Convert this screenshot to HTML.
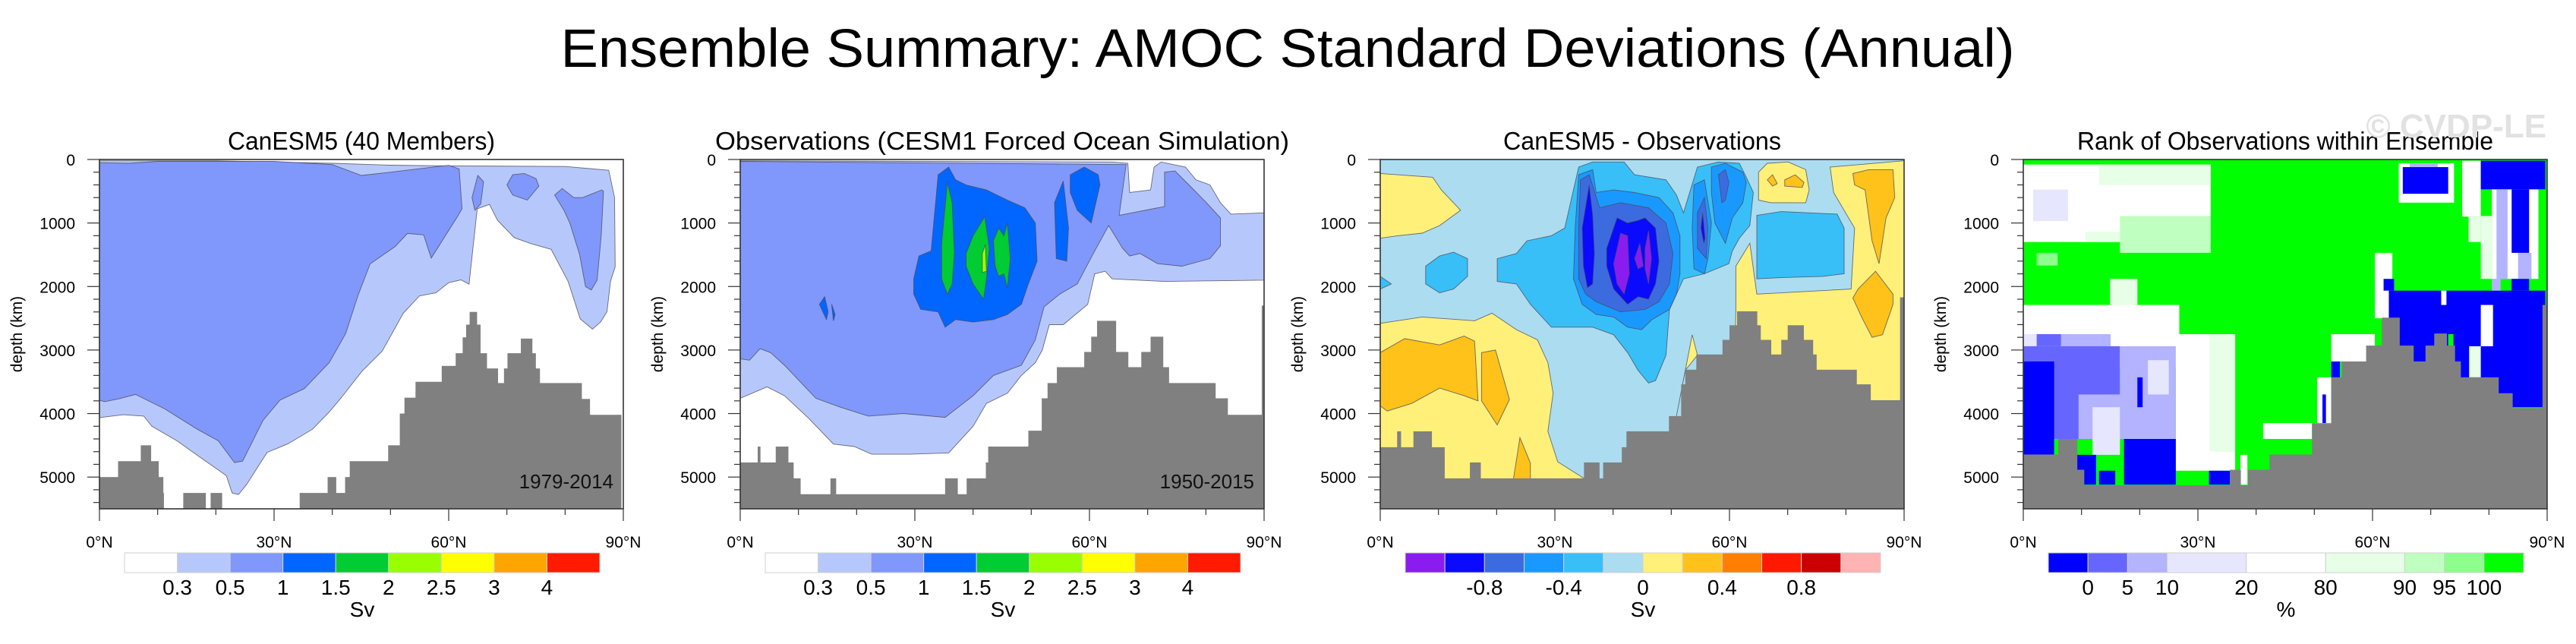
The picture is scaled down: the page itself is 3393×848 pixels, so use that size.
<!DOCTYPE html>
<html><head><meta charset="utf-8"><title>Ensemble Summary: AMOC Standard Deviations</title>
<style>
html,body{margin:0;padding:0;background:#fff;}
svg{display:block;font-family:"Liberation Sans",Arial,sans-serif;}
</style></head>
<body>
<svg id="fig" width="3393" height="848" viewBox="0 0 3393 848" xmlns="http://www.w3.org/2000/svg">
<rect x="0" y="0" width="3393" height="848" fill="#fff"/>
<text x="1696" y="88" font-size="71" text-anchor="middle" textLength="1915" lengthAdjust="spacingAndGlyphs">Ensemble Summary: AMOC Standard Deviations (Annual)</text>
<g id="panels"></g>
<text x="3354" y="181" font-size="44" font-weight="bold" fill="#e2e2e2" text-anchor="end">© CVDP-LE</text>
</svg>
<script>
// ---------- data ----------
const panelTitles = ["CanESM5 (40 Members)","Observations (CESM1 Forced Ocean Simulation)","CanESM5 - Observations","Rank of Observations within Ensemble"];
const panelTitleWidths = [352,756,366,548];
const periodLabels = ["1979-2014","1950-2015","",""];
const depthTicks = [0,1000,2000,3000,4000,5000];
const latTicks = [0,30,60,90];
const latTickLabels = ["0°N","30°N","60°N","90°N"];

const sdColors = ["#ffffff","#b6c8fb","#8097fb","#0066ff","#00cc33","#99ff00","#ffff00","#ffa500","#ff1a00"];
const sdLabels = ["0.3","0.5","1","1.5","2","2.5","3","4"];
const diffColors = ["#8a1cf0","#0a0aff","#3c6be0","#1999ff","#38bff8","#acdcf0","#fff07a","#ffc21a","#ff8000","#ff1900","#cc0000","#ffb3b3"];
const diffLabels = ["","-0.8","","-0.4","","0","","0.4","","0.8",""];
const rankColors = ["#0000ff","#6666ff","#b3b3ff","#e6e6ff","#ffffff","#e6ffe6","#bfffbf","#8cff8c","#00ff00"];
const rankBoxUnits = [1,1,1,2,2,2,1,1,1];
const rankLabels = ["0","5","10","20","80","90","95","100"];

// bathymetry steps: [lat0, lat1, depth]
const bathy1 = [[0,3.2,5000],[3.2,7.1,4750],[7.1,8.8,4500],[8.8,10.1,4750],[10.1,10.9,5000],[10.9,11.0,5250],[14.4,18.2,5250],[19.1,21,5250],[34.4,39.2,5250],[39.2,40.6,5000],[40.6,42.2,5250],[42.2,43,5000],[43,49.6,4750],[49.6,51.6,4500],[51.6,52.4,4000],[52.4,54.3,3750],[54.3,58.8,3500],[58.8,61.2,3250],[61.2,62.4,3050],[62.4,63,2800],[63,63.6,2600],[63.6,64.8,2400],[64.8,65.4,2600],[65.4,66.5,3050],[66.5,68.4,3290],[68.4,69.5,3520],[69.5,70.1,3290],[70.1,72.4,3050],[72.4,74.3,2820],[74.3,74.9,3050],[74.9,75.6,3290],[75.6,82.8,3520],[82.8,84.2,3770],[84.2,89.6,4020]];
const bathy2 = [[0,3,4770],[3,3.4,4520],[3.4,6.1,4770],[6.1,8.2,4520],[8.2,9.1,4770],[9.1,10.3,5020],[10.3,15.5,5270],[15.5,16.4,5020],[16.4,35.2,5270],[35.2,37.3,5020],[37.3,38.9,5270],[38.9,42.2,5020],[42.2,42.6,4770],[42.6,49.5,4520],[49.5,51.8,4270],[51.8,52.8,3760],[52.8,54.4,3520],[54.4,59.1,3270],[59.1,60.3,3030],[60.3,61.3,2790],[61.3,64.5,2540],[64.5,66.6,3030],[66.6,68.9,3270],[68.9,70.5,3030],[70.5,72.6,2790],[72.6,73.6,3270],[73.6,81.6,3520],[81.6,83.7,3760],[83.7,89.6,4020],[89.6,90,2300]];
const bathy3 = [[0,2.9,4530],[2.9,3.5,4280],[3.5,5.7,4530],[5.7,8.8,4280],[8.8,11,4530],[11,15.4,5020],[15.4,17.2,4770],[17.2,35,5020],[35,37.6,4770],[37.6,38.3,5020],[38.3,41.5,4770],[41.5,42.3,4530],[42.3,49.6,4280],[49.6,51.7,4040],[51.7,52.4,3540],[52.4,54.3,3310],[54.3,58.8,3070],[58.8,60,2840],[60,61.3,2610],[61.3,64.7,2390],[64.7,65.3,2610],[65.3,67.1,2840],[67.1,68.9,3070],[68.9,70,2840],[70,72.7,2610],[72.7,74.3,2840],[74.3,74.9,3070],[74.9,81.8,3310],[81.8,84.2,3540],[84.2,89.3,3790],[89.3,90,2170]];
const bathy4 = [[0,6,4645],[6,9.2,4400],[9.2,10.4,4885],[10.4,35.5,5130],[35.5,37.3,4885],[37.3,38.6,5130],[38.6,42.3,4885],[42.3,49.6,4645],[49.6,52.9,4160],[52.9,54.7,3430],[54.7,58.9,3180],[58.9,61.6,2930],[61.6,64.6,2490],[64.6,67,2930],[67,69.1,3180],[69.1,70.6,2930],[70.6,72.7,2740],[72.7,74.1,2930],[74.1,75.1,3180],[75.1,81.6,3430],[81.6,84,3680],[84,89.2,3915],[89.2,90,2290]];

// contour regions: {c: colour index, p: [[lat,depth],...]}
const field1 = [
 {c:1,p:[[0,20],[20,20],[40,60],[50,90],[60,100],[80,110],[87.5,170],[88.5,600],[88.6,1690],[87.8,1918],[87.2,2397],[86.1,2557],[84.7,2671],[82.6,2511],[80.5,1918],[77.6,1415],[74.1,1324],[71.3,1233],[68.4,959],[67,708],[64.9,776],[63.5,1963],[62.1,1895],[60,1940],[57.8,2100],[55,2146],[52.2,2420],[48.6,3014],[45.1,3333],[41.6,3744],[39.5,3973],[36.6,4247],[32.4,4475],[28.8,4612],[25.3,5114],[23.9,5274],[22.8,5251],[21.8,4977],[17.5,4703],[13.3,4429],[9,4200],[7.6,4040],[4.1,4018],[0,4064]]},
 {c:2,p:[[0,50],[5,60],[10,30],[30,30],[40,80],[45,251],[50,200],[60,91],[61.8,150],[62.3,776],[61.5,900],[57,1553],[55.7,1187],[52.9,1164],[50.8,1370],[46.5,1644],[44.4,2146],[42.3,2740],[39.5,3196],[35.2,3607],[31,3790],[28.1,4110],[24.6,4749],[23.2,4772],[20.4,4429],[16.8,4247],[11.2,3927],[6.2,3699],[3.4,3767],[0.9,3813],[0,3790]]},
 {c:2,p:[[70,400],[71,240],[73,220],[75,300],[75.5,420],[73.5,640],[71,560]]},
 {c:2,p:[[78.2,560],[79.5,457],[81.5,600],[83,600],[86.3,480],[86.6,500],[86.2,1200],[85.5,1900],[84.5,2055],[83.5,2000],[82.5,1500],[80.8,1000],[79.8,800]]},
 {c:2,p:[[64,600],[65,250],[66,350],[65.5,700],[64.5,800]]}
];
const field2 = [
 {c:1,p:[[0,3760],[4.6,3580],[7.6,3720],[11.8,4080],[16,4480],[19.6,4520],[22.6,4640],[29.2,4640],[35.8,4620],[40,4200],[42.3,3840],[45.9,3680],[48.3,3400],[50.7,3200],[51.9,3000],[53.1,2600],[55.5,2600],[59.7,2280],[60.9,1800],[62.7,1760],[63.9,1880],[72.9,1920],[90,1900],[90,840],[84.3,860],[82.5,680],[80.7,400],[78.3,320],[76.5,120],[72.3,40],[71.1,120],[70.5,480],[66.9,520],[66.6,60],[63.9,40],[0,20]]},
 {c:2,p:[[0,3140],[1.6,3160],[3.4,2980],[5.2,3040],[7.6,3240],[13,3760],[17.2,3900],[22,4040],[28,4000],[35.2,4060],[40,3720],[43.5,3400],[48.3,3240],[50.7,2840],[52.2,2320],[54.9,2120],[57.9,1960],[60.9,1440],[63.3,1040],[65.7,1400],[66.9,1520],[68.7,1480],[71.7,1640],[75.9,1680],[80.7,1560],[82.5,1360],[82.5,920],[80.1,680],[77.1,400],[74.7,180],[72.9,200],[72.9,740],[65.1,880],[66.3,80],[0,30]]},
 {c:3,p:[[29.8,1880],[30.7,1520],[32.8,1440],[34,240],[35.8,120],[37,320],[38.8,400],[42.3,480],[45.9,640],[48.9,760],[50.7,1000],[51,1600],[49.5,1960],[48.3,2280],[45.9,2440],[43.5,2520],[40,2560],[37,2520],[35.2,2640],[34,2400],[31,2360],[29.8,2120]]},
 {c:3,p:[[54,680],[55.5,340],[56.4,1080],[56.1,1600],[54.3,1560]]},
 {c:3,p:[[56.7,240],[59.1,120],[61.5,240],[61.8,400],[60.3,1000],[57.9,800],[56.7,520]]},
 {c:3,p:[[13.6,2280],[14.5,2160],[15.1,2400],[14.8,2520]]},
 {c:3,p:[[15.7,2280],[16.3,2440],[16,2540]]},
 {c:4,p:[[34.6,1320],[35.6,360],[36.4,680],[36.8,1480],[36.4,1960],[35.6,2120],[34.6,1880]]},
 {c:4,p:[[38.8,1480],[40,1200],[42,900],[42.8,1400],[42.3,1880],[41.8,2200],[40,1960],[38.8,1680]]},
 {c:4,p:[[43.5,1280],[44.4,1080],[45.3,1200],[45.9,1000],[46.4,1560],[45.9,2020],[45.3,1800],[44.4,1840],[43.8,1680]]},
 {c:5,p:[[41.6,1480],[42.1,1340],[42.3,1760],[41.6,1780]]}
];
const field3 = [
 {c:6,p:[[0,220],[9,280],[10.5,480],[13.8,800],[10.2,1040],[7.2,1160],[3,1200],[0,1240]]},
 {c:6,p:[[0,2580],[7.2,2480],[16.2,2540],[19.2,2420],[23.4,2680],[27,2840],[28.8,3200],[29.7,3680],[28.8,4280],[30.5,4760],[35,5020],[35,5500],[0,5500]]},
 {c:7,p:[[0,3040],[4.2,2820],[10.2,2920],[14.4,2780],[16.2,2860],[16.8,3800],[14.4,3720],[10.2,3600],[5.4,3840],[1.2,3960],[0,3880]]},
 {c:7,p:[[17.4,3040],[19.8,3000],[22.2,3780],[20.1,4180],[17.4,3800]]},
 {c:7,p:[[22.8,5080],[24,4380],[25.8,4780],[25.8,5080]]},
 {c:6,p:[[61.1,1680],[63.5,1320],[64.7,2120],[80.9,2040],[81.5,1080],[77.9,520],[77.3,120],[90,20],[90,5500],[60.5,5500],[61.1,2360]]},
 {c:6,p:[[65,200],[66.5,60],[70.1,40],[73.1,160],[73.7,480],[73.1,680],[67.1,680],[65,640]]},
 {c:7,p:[[81.2,220],[83.9,160],[88.1,160],[88.4,600],[86.9,920],[85.7,1640],[84.5,1280],[83.3,480],[81.5,400]]},
 {c:7,p:[[82.1,2040],[85.1,1760],[88.1,2120],[88.1,2280],[86.3,2760],[84.5,2800],[82.7,2480],[81.2,2180]]},
 {c:7,p:[[66.5,320],[67.4,240],[68.2,380],[67.4,420]]},
 {c:7,p:[[69.5,320],[71.3,240],[72.8,360],[72.5,440],[69.5,420]]},
 {c:6,p:[[50.9,4040],[53.6,2760],[54.5,3080],[52.4,3320]]},
 {c:4,p:[[20.1,1560],[23.4,1480],[25.2,1280],[29.4,1200],[31.7,1080],[34.1,120],[36.5,40],[41.9,40],[43.7,240],[49.1,320],[50.9,560],[52.1,840],[54.5,120],[58.1,40],[61.7,60],[62.9,280],[64.1,520],[63.5,1040],[61.7,1240],[60.5,1440],[59.9,1640],[55.7,1800],[52.1,1880],[49.7,2360],[49.1,3080],[47.3,3480],[46.1,3520],[44.3,3320],[42.5,3040],[40.1,2760],[36.5,2640],[34.1,2640],[29.4,2640],[25.8,2280],[23.4,1960],[20.1,1920]]},
 {c:4,p:[[7.8,1680],[10.2,1520],[12.6,1460],[15,1560],[15,1840],[12.6,2040],[10.2,2100],[7.8,1960]]},
 {c:4,p:[[64.7,880],[68.9,820],[78.5,860],[79.7,1080],[79.7,1800],[76.1,1840],[68.9,1860],[64.7,1880]]},
 {c:4,p:[[0,1840],[1.9,1960],[0,2040]]},
 {c:3,p:[[34.1,240],[36.5,160],[37.1,520],[40.1,480],[43.7,520],[47.9,600],[50.3,840],[51.5,1200],[51.5,1800],[50.9,2120],[49.7,2360],[46.7,2520],[44.9,2680],[42.5,2640],[40.1,2480],[37.1,2440],[34.7,2280],[33.2,1880],[33.5,1080]]},
 {c:3,p:[[53.9,400],[55.7,320],[56.9,1000],[56.3,1560],[55.7,1800],[53.9,1720],[53.6,1080]]},
 {c:3,p:[[56.9,120],[59.3,60],[62.3,200],[62.9,360],[62.3,680],[60.5,920],[59.3,1320],[57.5,1000],[56.9,520]]},
 {c:2,p:[[34.4,320],[35.9,240],[37.7,760],[41.3,680],[46.1,760],[49.1,1000],[50.3,1480],[49.7,1960],[47.9,2240],[45.5,2360],[41.3,2400],[37.1,2240],[35.3,2120],[34.1,1880],[34.1,1080]]},
 {c:2,p:[[54.5,840],[55.7,600],[56.3,1080],[56,1560],[54.5,1400]]},
 {c:2,p:[[58.1,240],[59.3,160],[59.9,360],[59.3,640],[58.7,680]]},
 {c:1,p:[[34.7,1080],[35.9,400],[36.5,880],[36.8,1480],[36.5,1960],[35.6,2020],[34.9,1680]]},
 {c:1,p:[[38.9,1400],[40.7,920],[42.5,1000],[44.3,960],[45.5,920],[47.3,1080],[47.9,1600],[47.3,1960],[46.1,2200],[44.3,2160],[42.5,2280],[40.1,2040],[38.9,1680]]},
 {c:1,p:[[55.4,840],[55.8,1240],[55.6,1320],[55.1,1080]]},
 {c:0,p:[[40.1,1640],[41.3,1160],[42.5,1200],[42.8,1800],[41.9,2120],[40.7,1960]]},
 {c:0,p:[[43.7,1560],[44.6,1320],[45.2,1680],[44.3,1720]]},
 {c:0,p:[[45.5,1400],[46.1,1120],[46.6,1560],[46.1,1960],[45.5,1720]]}
];
// rank cells: [lat0, lat1, depth0, depth1, colour index]
const rankCells = [
 [0,90,0,5500,8],
 [0,32.2,80,1300,4],[13,32,80,400,5],[16.6,32.2,890,1470,6],[10.7,16.6,1140,1300,5],[1.7,7.7,475,970,3],
 [2.3,5.9,1470,1670,7],[14.9,19.6,1880,2290,5],
 [0,26.8,2290,2750,4],[0,36,2750,3280,4],[26.2,36.4,2750,4900,4],[32,36.4,2750,4600,5],
 [0,2.3,2750,2940,3],[2.3,6.5,2750,2940,1],[6.5,15,2750,2940,2],
 [0,16.6,2940,4400,1],[16.6,26.2,2940,4400,2],[21.4,25,3160,3700,3],[9.5,21.4,3700,4400,2],[11.9,16.6,3900,4650,3],
 [0,5.3,3180,4650,0],[19.6,20.5,3430,3900,0],
 [17.3,26.2,4400,5120,0],[9.2,12.5,4650,5120,0],[13,15.8,4900,5120,0],[31.9,35.5,4900,5120,0],
 [37.3,38.5,4650,5120,4],
 [60.4,63.4,1470,2500,4],[61.9,63.7,1880,2065,0],
 [62.8,89.7,2065,3900,0],[71.8,72.7,2065,2290,4],[73,73.9,2750,2940,8],[76.6,78.6,2940,3430,5],[78.6,80.7,2290,2940,4],
 [75.4,78.6,20,900,4],[76.5,78.6,900,1300,5],[80.5,88.5,470,1880,4],[78.6,80.5,890,1880,5],[78.6,89.7,20,470,0],[81.3,83.2,470,1880,2],[83.9,86.9,470,1470,0],[85,87.3,1470,1880,2],[80.5,82,1880,2065,2],[83.9,86.9,1880,2065,0],
 [64.5,74,60,680,4],[66.4,71.2,60,190,2],[65.2,73,120,540,0],
 [52.9,60.4,2750,3180,4],[52.9,54.4,3180,3430,0],[50.5,52.9,3430,4150,4],[51.4,52,3700,4150,0],[41.2,49.6,4150,4400,4]
];

// ---------- layout ----------
const panelLefts = [131,975,1818,2665];
const PW = 690, PT = 210, PH = 460, DMAX = 5500;
const NS = "http://www.w3.org/2000/svg";
const root = document.getElementById('panels');
function mk(tag, attrs, parent){const e=document.createElementNS(NS,tag);for(const k in attrs)e.setAttribute(k,attrs[k]);(parent||root).appendChild(e);return e;}

function drawPanel(i, bg, field, colors, bathy){
  const L = panelLefts[i];
  const xs = lat => L + lat/90*PW;
  const ys = d => PT + d/DMAX*PH;
  const g = mk('g',{});
  
  
  const clip = mk('clipPath',{id:'clip'+i}, g);
  mk('rect',{x:L,y:PT,width:PW,height:PH},clip);
  const plot = mk('g',{'clip-path':'url(#clip'+i+')'}, g);
  
  
  mk('rect',{x:L,y:PT,width:PW,height:PH,fill:bg},plot);
  if(field){
    field.forEach(r=>{
      const pts = r.p.map(q=>xs(q[0]).toFixed(1)+','+ys(q[1]).toFixed(1)).join(' ');
      const pg = mk('polygon',{points:pts,fill:colors[r.c],stroke:'#4a4a5a','stroke-width':0.9,'stroke-opacity':0.8},plot);
      
      
    });
  } else {
    rankCells.forEach(c=>{
      const rc = mk('rect',{x:xs(c[0]),y:ys(c[2]),width:xs(c[1])-xs(c[0]),height:ys(c[3])-ys(c[2]),fill:colors[c[4]]},plot);
      
      
    });
  }
  bathy.forEach(b=>{
    const br = mk('rect',{x:xs(b[0]),y:ys(b[2]),width:xs(b[1])-xs(b[0])+0.6,height:ys(DMAX)-ys(b[2]),fill:'#808080'},plot);
    
    
  });
  if(periodLabels[i]){
    const t = mk('text',{x:L+PW-13,y:643,'font-size':26,'text-anchor':'end',fill:'#111'},g);
    t.textContent = periodLabels[i];
    
    
  }
  const fr = mk('rect',{x:L,y:PT,width:PW,height:PH,fill:'none',stroke:'#333','stroke-width':1.6},g);
  
  
  for(let d=0; d<=DMAX; d+=200){
    const maj = d%1000===0;
    mk('line',{x1:L-(maj?16:8),x2:L,y1:ys(d),y2:ys(d),stroke:'#333','stroke-width':1.2},g);
  }
  depthTicks.forEach(d=>{
    const t = mk('text',{x:L-32,y:ys(d)+8,'font-size':21,'text-anchor':'end'},g);
    t.textContent = d;
    
    
  });
  const yt = mk('text',{x:0,y:0,'font-size':21,'text-anchor':'middle',transform:'translate('+(L-102)+','+(PT+PH/2)+') rotate(-90)'},g);
  yt.textContent = 'depth (km)';
  
  
  for(let a=0; a<=90; a+=10){
    const maj = a%30===0;
    mk('line',{x1:xs(a),x2:xs(a),y1:PT+PH,y2:PT+PH+(maj?16:8),stroke:'#333','stroke-width':1.2},g);
  }
  latTicks.forEach((a,k)=>{
    const t = mk('text',{x:xs(a),y:721,'font-size':21,'text-anchor':'middle'},g);
    t.textContent = latTickLabels[k];
    
    
  });
  const tt = mk('text',{x:L+PW/2,y:197,'font-size':33,'text-anchor':'middle',textLength:panelTitleWidths[i],lengthAdjust:'spacingAndGlyphs'},g);
  tt.textContent = panelTitles[i];
  
  
  return g;
}

function drawColorbar(i, colors, units, labels, unitLabel){
  const L = panelLefts[i] + 33, W = 626, Y = 728, H = 26;
  const total = units.reduce((a,b)=>a+b,0);
  const g = mk('g',{});
  
  
  let acc = 0;
  const bx = [];
  colors.forEach((c,k)=>{
    const x0 = L + acc/total*W; acc += units[k]; const x1 = L + acc/total*W;
    const r = mk('rect',{x:x0,y:Y,width:x1-x0,height:H,fill:c,stroke:'#d0d0d0','stroke-width':1},g);
    
    
    bx.push(x1);
  });
  labels.forEach((s,k)=>{
    if(!s) return;
    const t = mk('text',{x:bx[k],y:783,'font-size':28,'text-anchor':'middle'},g);
    t.textContent = s;
    
    
  });
  const u = mk('text',{x:L+W/2,y:812,'font-size':28,'text-anchor':'middle'},g);
  u.textContent = unitLabel;
  
  
}

drawPanel(0,'#ffffff',field1,sdColors,bathy1);
drawPanel(1,'#ffffff',field2,sdColors,bathy2);
drawPanel(2,'#acdcf0',field3,diffColors,bathy3);
drawPanel(3,'#00ff00',null,rankColors,bathy4);
drawColorbar(0,sdColors,sdColors.map(()=>1),sdLabels,'Sv');
drawColorbar(1,sdColors,sdColors.map(()=>1),sdLabels,'Sv');
drawColorbar(2,diffColors,diffColors.map(()=>1),diffLabels,'Sv');
drawColorbar(3,rankColors,rankBoxUnits,rankLabels,'%');
</script>
</body></html>
